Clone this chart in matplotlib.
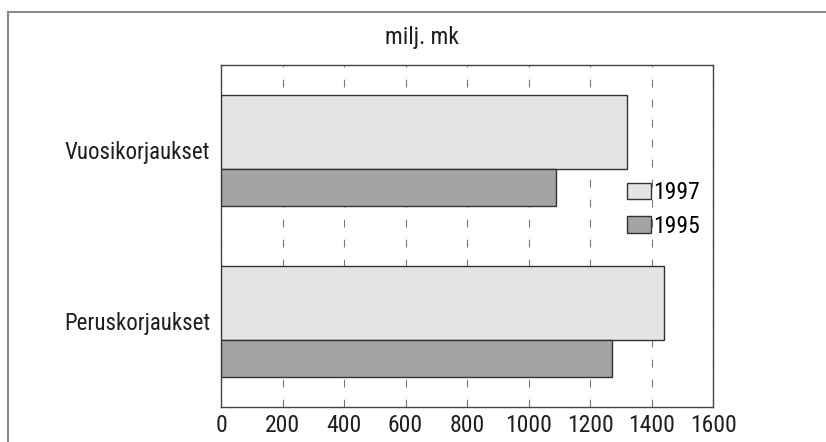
import matplotlib.pyplot as plt
from matplotlib.lines import Line2D
import numpy as np

plt.rcParams["font.family"] = ["Roboto Condensed", "DejaVu Sans"]

# data (milj. mk)
categories = ["Peruskorjaukset", "Vuosikorjaukset"]
values_1997 = [1440, 1320]
values_1995 = [1270, 1090]
years = ["1997", "1995"]
xticks = [0, 200, 400, 600, 800, 1000, 1200, 1400, 1600]

fig = plt.figure(figsize=(8.26, 4.42), dpi=100)
ax = fig.add_axes([0.2676, 0.0792, 0.5956, 0.7738])

pos = np.arange(len(categories))
ax.barh(pos + 0.108, values_1997, height=0.433, color="#e4e4e4",
        edgecolor="#333333", linewidth=1.0, label=years[0], zorder=3)
ax.barh(pos - 0.216, values_1995, height=0.217, color="#a4a4a4",
        edgecolor="#333333", linewidth=1.0, label=years[1], zorder=3)

ax.set_xlim(0, 1600)
ax.set_ylim(-0.5, 1.5)
ax.set_xticks(xticks)
ax.set_xticklabels([str(t) for t in xticks], fontsize=17, color="#1e1e1e")
ax.set_yticks(pos)
ax.set_yticklabels(categories, fontsize=16.5, color="#1e1e1e")
ax.tick_params(axis="x", length=0, pad=5)
ax.tick_params(axis="y", length=0, pad=8)

ax.xaxis.grid(True, color="#777777", linewidth=0.8, linestyle=(0, (7, 11)), zorder=0)
ax.set_axisbelow(True)
for s in ax.spines.values():
    s.set_color("#444444")
    s.set_linewidth(1.0)

fig.text(0.511, 0.9005, "milj. mk", fontsize=17, ha="center", va="baseline", color="#1e1e1e")

ax.legend(loc="upper left", bbox_to_anchor=(0.759, 0.590), bbox_transform=fig.transFigure,
          frameon=False, fontsize=17, handlelength=1.0, handleheight=0.72,
          handletextpad=0.1, labelspacing=0.45, borderpad=0, borderaxespad=0)

# page frame: top and left edges only
fig.add_artist(Line2D([8 / 826, 1.0], [1 - 12 / 442] * 2, transform=fig.transFigure,
                      color="#8a8a8a", linewidth=1.5))
fig.add_artist(Line2D([8 / 826] * 2, [0.0, 1 - 12 / 442], transform=fig.transFigure,
                      color="#8a8a8a", linewidth=1.5))

plt.savefig("out.png", dpi=100)
plt.close()
